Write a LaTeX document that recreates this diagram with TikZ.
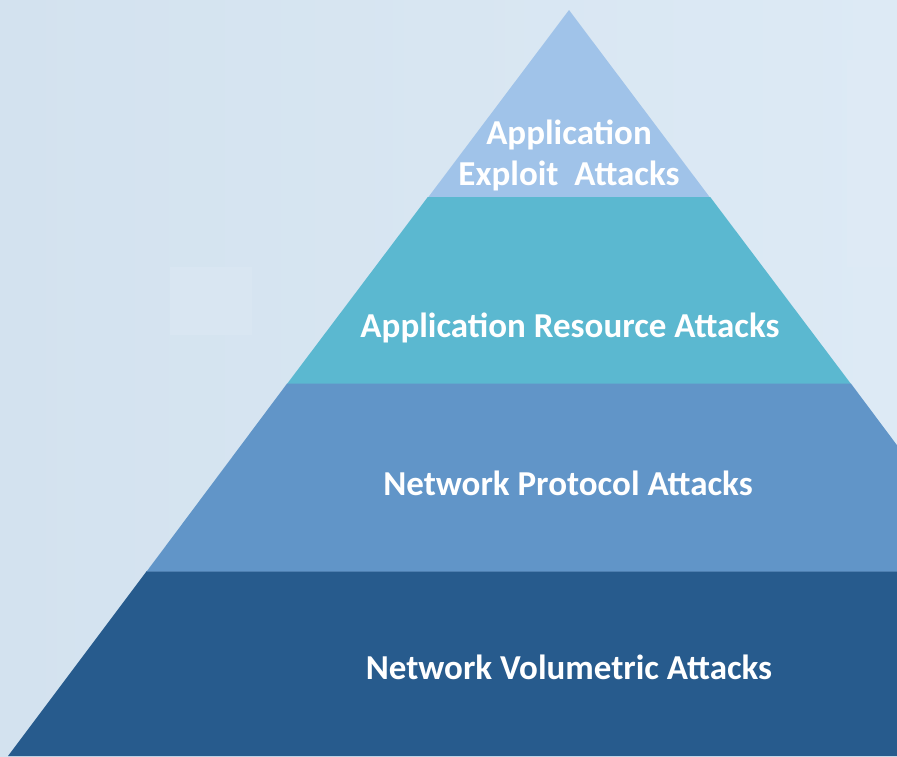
\documentclass[tikz,border=0pt]{standalone}
\usepackage{fontspec}
\setmainfont{Carlito}
\definecolor{bgleft}{HTML}{D3E2EF}
\definecolor{bgright}{HTML}{DDEAF5}
\definecolor{bgpatch}{HTML}{E1ECF6}
\definecolor{tierA}{HTML}{A0C3E9}
\definecolor{tierB}{HTML}{5BB8D0}
\definecolor{tierC}{HTML}{6195C8}
\definecolor{tierD}{HTML}{275B8D}
\definecolor{tierDline}{HTML}{4E7FB0}
\begin{document}
\begin{tikzpicture}[x=1pt,y=-1pt,
  tierlabel/.style={text=white,font=\fontsize{35}{41}\selectfont\bfseries,align=center,inner sep=0pt},
  tier/.style={draw=none}]
  % canvas
  \useasboundingbox (0,0) rectangle (897,756);
  \shade[left color=bgleft,right color=bgright] (0,0) rectangle (897,756);
  \fill[bgpatch,opacity=0.35] (170,267) rectangle (252,335);
  \fill[bgpatch,opacity=0.4] (847,60) rectangle (897,267);
  % pyramid outline corners (edge slope 0.752 px per px)
  \coordinate (apex) at (569,10);
  \begin{scope}
    \clip (0,0) rectangle (897,756);
    \fill[tierA] (apex) -- (710.2,197.8) -- (427.8,197.8) -- cycle;
    \fill[tierB] (427.8,197) -- (710.2,197) -- (850.9,383.8) -- (287.1,383.8) -- cycle;
    \fill[tierC] (287.1,383.5) -- (850.9,383.5) -- (991.6,571.8) -- (146.4,571.8) -- cycle;
    \fill[tierD] (146.4,571.5) -- (991.6,571.5) -- (1130,756) -- (8,756) -- cycle;
    \draw[tierDline,line width=1pt] (146.4,571.5) -- (991.6,571.5);
  \end{scope}
  % labels
  \node[tierlabel] (lA) at (569,155) {Application\\Exploit~ Attacks};
  \node[tierlabel] (lB) at (570,328) {Application Resource Attacks};
  \node[tierlabel] (lC) at (568,483) {Network Protocol Attacks};
  \node[tierlabel] (lD) at (569,667) {Network Volumetric Attacks};
\end{tikzpicture}
\end{document}
